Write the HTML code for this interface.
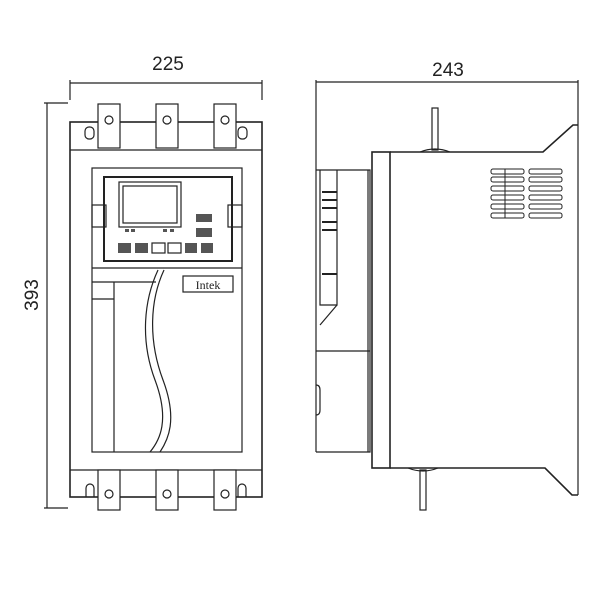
<!DOCTYPE html>
<html><head><style>html,body{margin:0;padding:0;background:#fff}svg{display:block}</style></head>
<body>
<svg width="600" height="600" viewBox="0 0 600 600" xmlns="http://www.w3.org/2000/svg" fill="none" stroke="#222" stroke-width="1.2" font-family="Liberation Sans, sans-serif">
<!-- dimensions front -->
<line x1="70" y1="83" x2="262" y2="83"/>
<line x1="70" y1="80" x2="70" y2="100"/>
<line x1="262" y1="80" x2="262" y2="100"/>
<text x="168" y="70" font-size="19" fill="#222" stroke="none" text-anchor="middle">225</text>
<line x1="47" y1="103" x2="47" y2="508"/>
<line x1="44" y1="103" x2="68" y2="103"/>
<line x1="44" y1="508" x2="68" y2="508"/>
<text transform="translate(38,295) rotate(-90)" font-size="19" fill="#222" stroke="none" text-anchor="middle">393</text>
<!-- front body -->
<rect x="70" y="122" width="192" height="375" stroke-width="1.6"/>
<line x1="70" y1="150" x2="262" y2="150"/>
<line x1="70" y1="470" x2="262" y2="470"/>
<!-- top lugs -->
<g fill="#fff">
<rect x="98" y="104" width="22" height="44"/><circle cx="109" cy="120" r="4"/>
<rect x="156" y="104" width="22" height="44"/><circle cx="167" cy="120" r="4"/>
<rect x="214" y="104" width="22" height="44"/><circle cx="225" cy="120" r="4"/>
<rect x="85" y="127" width="9" height="12" rx="4"/>
<rect x="238" y="127" width="9" height="12" rx="4"/>
<!-- bottom lugs -->
<rect x="98" y="470" width="22" height="40"/><circle cx="109" cy="494" r="4"/>
<rect x="156" y="470" width="22" height="40"/><circle cx="167" cy="494" r="4"/>
<rect x="214" y="470" width="22" height="40"/><circle cx="225" cy="494" r="4"/>
</g>
<path d="M86 497 V488 a4 4 0 0 1 8 0 V497"/>
<path d="M238 497 V488 a4 4 0 0 1 8 0 V497"/>
<!-- inner panel -->
<rect x="92" y="168" width="150" height="284"/>
<rect x="104" y="177" width="128" height="84" stroke-width="2"/>
<rect x="119" y="182" width="62" height="45"/>
<rect x="123" y="186" width="54" height="37"/>
<rect x="92" y="205" width="14" height="22"/>
<rect x="228" y="205" width="14" height="22"/>
<g fill="#555" stroke="none">
<rect x="196" y="214" width="16" height="8"/><rect x="196" y="228" width="16" height="9"/>
<rect x="118" y="243" width="13" height="10"/><rect x="135" y="243" width="13" height="10"/>
<rect x="185" y="243" width="12" height="10"/><rect x="201" y="243" width="12" height="10"/>
<rect x="125" y="229" width="4" height="3"/><rect x="131" y="229" width="4" height="3"/>
<rect x="163" y="229" width="4" height="3"/><rect x="170" y="229" width="4" height="3"/>
</g>
<rect x="152" y="243" width="13" height="10"/><rect x="168" y="243" width="13" height="10"/>
<line x1="92" y1="268" x2="242" y2="268"/>
<rect x="183" y="276" width="50" height="16"/>
<text x="208" y="289" font-size="12" font-family="Liberation Serif, serif" fill="#222" stroke="none" text-anchor="middle">Intek</text>
<path d="M92 282 H156 M92 299 H114 M114 282 V452"/>
<path d="M158 270 C144 300 140 340 155 380 C170 420 160 440 150 452"/>
<path d="M164 270 C150 300 148 340 163 380 C178 420 168 440 160 452"/>
<!-- side view dims -->
<line x1="316" y1="82" x2="578" y2="82"/>
<line x1="316" y1="80" x2="316" y2="452"/>
<line x1="578" y1="80" x2="578" y2="495"/>
<text x="448" y="76" font-size="19" fill="#222" stroke="none" text-anchor="middle">243</text>
<!-- side body -->
<rect x="372" y="152" width="18" height="316" stroke-width="1.6"/>
<path d="M390 152 H543 L573 125 H578" stroke-width="1.6"/>
<path d="M390 468 H545 L572 495 H578" stroke-width="1.6"/>
<rect x="432" y="108" width="6" height="42"/>
<path d="M420 152 Q435 146 450 152"/>
<rect x="420" y="470" width="6" height="40"/>
<path d="M408 468 Q423 474 438 468"/>
<!-- keypad side -->
<path d="M316 170 H370 V452 H316"/>
<line x1="368" y1="170" x2="368" y2="452"/>
<line x1="316" y1="351" x2="370" y2="351"/>
<path d="M320 170 V305 H337 V170"/>
<path d="M337 305 L320 325"/>
<g stroke-width="2"><line x1="322" y1="192" x2="337" y2="192"/><line x1="322" y1="200" x2="337" y2="200"/><line x1="322" y1="208" x2="337" y2="208"/><line x1="322" y1="222" x2="337" y2="222"/><line x1="322" y1="230" x2="337" y2="230"/><line x1="322" y1="274" x2="337" y2="274"/></g>
<path d="M316 385 Q320 385 320 390 V410 Q320 415 316 415"/>
<!-- vents -->
<g stroke-width="1">
<rect x="491" y="169" width="33" height="5" rx="2"/><rect x="529" y="169" width="33" height="5" rx="2"/>
<rect x="491" y="177" width="33" height="5" rx="2"/><rect x="529" y="177" width="33" height="5" rx="2"/>
<rect x="491" y="186" width="33" height="5" rx="2"/><rect x="529" y="186" width="33" height="5" rx="2"/>
<rect x="491" y="195" width="33" height="5" rx="2"/><rect x="529" y="195" width="33" height="5" rx="2"/>
<rect x="491" y="204" width="33" height="5" rx="2"/><rect x="529" y="204" width="33" height="5" rx="2"/>
<rect x="491" y="213" width="33" height="5" rx="2"/><rect x="529" y="213" width="33" height="5" rx="2"/>
<line x1="505" y1="169" x2="505" y2="218"/>
</g>
</svg>
</body></html>
